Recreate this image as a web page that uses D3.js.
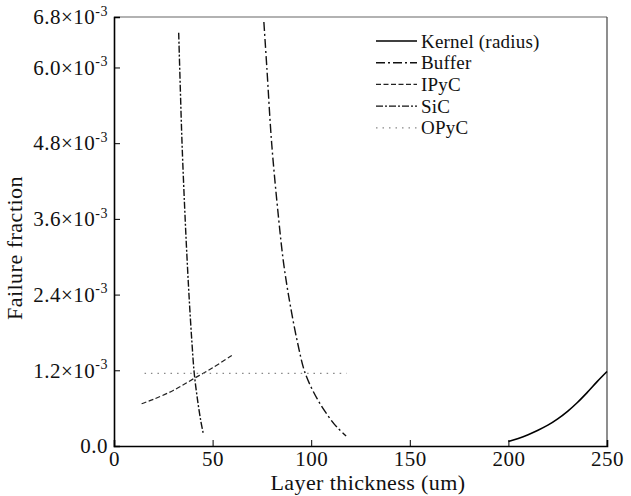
<!DOCTYPE html>
<html>
<head>
<meta charset="utf-8">
<script src="https://cdn.jsdelivr.net/npm/d3@7"></script>
<style>
  body { margin: 0; background: #fff; }
  text { font-family: "Liberation Serif", "DejaVu Serif", serif; fill: #111; }
</style>
</head>
<body>
<script>
// failure fraction values in units of 1e-3
var kernelX = [200, 205, 210, 215, 220, 225, 230, 235, 240, 245, 250];
var kernelY = [0.07, 0.12, 0.18, 0.25, 0.33, 0.43, 0.55, 0.69, 0.85, 1.02, 1.18];

var bufferX = [76, 77.5, 80, 83.5, 86, 89, 93, 97, 103, 108.5, 113, 117.7];
var bufferY = [6.72, 6.0, 4.78, 3.6, 2.9, 2.3, 1.65, 1.15, 0.75, 0.48, 0.3, 0.16];

var ipycX = [14, 20, 30, 40, 50, 60];
var ipycY = [0.67, 0.74, 0.88, 1.06, 1.24, 1.44];

var sicX = [32.8, 33.5, 34.5, 35.8, 37, 38.2, 39.5, 40.7, 42.5, 44, 45.2];
var sicY = [6.55, 5.8, 4.8, 3.8, 3.0, 2.3, 1.65, 1.15, 0.7, 0.4, 0.21];

var opycX = [15.5, 40, 60, 80, 100, 118];
var opycY = [1.15, 1.15, 1.15, 1.15, 1.15, 1.15];

var yTicks = [0, 1.2, 2.4, 3.6, 4.8, 6.0, 6.8];
var xTicks = [0, 50, 100, 150, 200, 250];

var names = ["Kernel (radius)", "Buffer", "IPyC", "SiC", "OPyC"];

var w = 631, h = 496;
var mLeft = 114, mRight = 607, mTop = 17, mBottom = 446;

var svg = d3.select("body").append("svg")
    .attr("width", w)
    .attr("height", h);

var xScale = d3.scaleLinear().domain([0, 250]).range([mLeft, mRight]);
var yScale = d3.scaleLinear().domain([0, 6.8]).range([mBottom, mTop]);

var styles = [
    {dash: null, width: 1.6, color: "#000"},
    {dash: "9,3,2,3", width: 1.4, color: "#111"},
    {dash: "5,2.5", width: 1.2, color: "#222"},
    {dash: "7,2,2,2", width: 1.4, color: "#111"},
    {dash: "1.5,5", width: 1.3, color: "#888"}
];

// frame: top and right lighter
svg.append("line").attr("x1", mLeft).attr("x2", mRight).attr("y1", mTop).attr("y2", mTop)
    .attr("stroke", "#666").attr("stroke-width", 1.2);
svg.append("line").attr("x1", mRight).attr("x2", mRight).attr("y1", mTop).attr("y2", mBottom)
    .attr("stroke", "#444").attr("stroke-width", 1.2);

var yAxis = d3.axisLeft(yScale)
    .tickValues(yTicks)
    .tickSize(-6)
    .tickPadding(6)
    .tickFormat(function () { return ""; });
var gy = svg.append("g")
    .attr("transform", "translate(" + mLeft + ",0)")
    .call(yAxis);
gy.select(".domain").attr("stroke-width", 1.6);

gy.selectAll(".tick text").each(function (d) {
    var t = d3.select(this).attr("font-size", 21).attr("font-family", "Liberation Serif")
        .attr("letter-spacing", 0.5);
    if (d === 0) {
        t.append("tspan").text("0.0");
    } else {
        t.append("tspan").text(d.toFixed(1) + "×10");
        t.append("tspan").text("-3").attr("font-size", 14).attr("dy", "-0.6em");
    }
});

var xAxis = d3.axisBottom(xScale)
    .tickValues(xTicks)
    .tickSize(-6)
    .tickPadding(5)
    .tickFormat(d3.format("d"));
var gx = svg.append("g")
    .attr("transform", "translate(0," + mBottom + ")")
    .call(xAxis);
gx.select(".domain").attr("stroke-width", 1.6);
gx.selectAll(".tick text")
    .attr("font-size", 21)
    .attr("letter-spacing", 0.5)
    .attr("font-family", "Liberation Serif");

// axis titles
svg.append("text")
    .attr("x", 368)
    .attr("y", 490)
    .attr("text-anchor", "middle")
    .attr("font-size", 22)
    .attr("letter-spacing", 0.4)
    .text("Layer thickness (um)");

svg.append("text")
    .attr("transform", "translate(22," + 248 + ") rotate(-90)")
    .attr("text-anchor", "middle")
    .attr("font-size", 22)
    .attr("letter-spacing", 0.5)
    .text("Failure fraction");

// curves
var seriesX = [kernelX, bufferX, ipycX, sicX, opycX];
var seriesY = [kernelY, bufferY, ipycY, sicY, opycY];

var line = d3.line()
    .x(function (d) { return xScale(d[0]); })
    .y(function (d) { return yScale(d[1]); })
    .curve(d3.curveCatmullRom);

for (var i = 0; i < 5; i++) {
    var pts = seriesX[i].map(function (x, j) { return [x, seriesY[i][j]]; });
    svg.append("path")
        .datum(pts)
        .attr("fill", "none")
        .attr("stroke", styles[i].color)
        .attr("stroke-width", styles[i].width)
        .attr("stroke-dasharray", styles[i].dash)
        .attr("d", line);
}

// legend
var lg = svg.append("g").attr("transform", "translate(376,0)");
names.forEach(function (n, i) {
    var yy = 41 + i * 21.7;
    lg.append("line")
        .attr("x1", 0).attr("x2", 41)
        .attr("y1", yy).attr("y2", yy)
        .attr("stroke", styles[i].color)
        .attr("stroke-width", styles[i].width)
        .attr("stroke-dasharray", styles[i].dash);
    lg.append("text")
        .attr("x", 45).attr("y", yy)
        .attr("dy", "0.35em")
        .attr("font-size", 19)
        .attr("letter-spacing", 0.2)
        .text(n);
});
</script>
</body>
</html>
